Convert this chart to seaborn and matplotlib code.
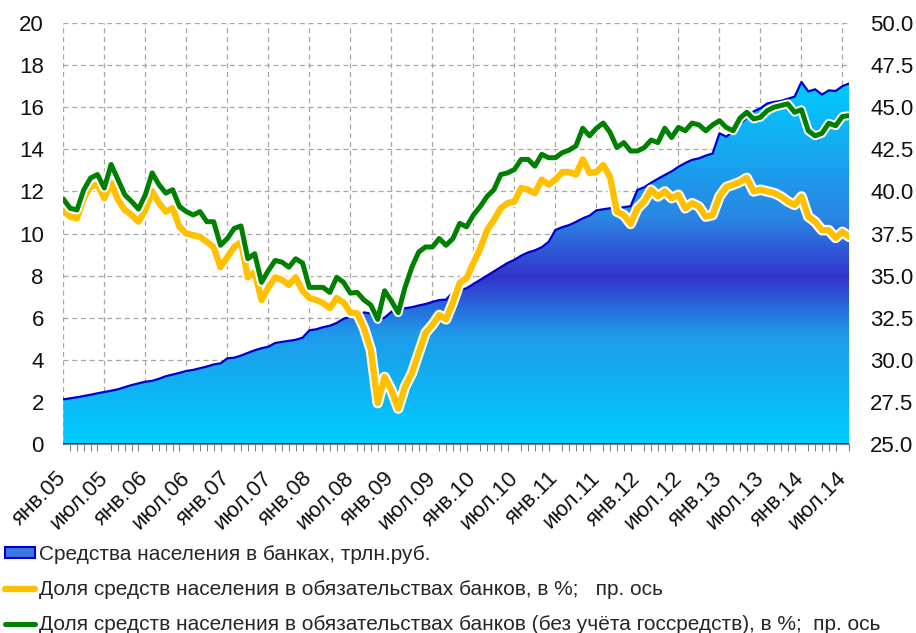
import numpy as np
import pandas as pd
import matplotlib
matplotlib.use("Agg")
import matplotlib.pyplot as plt
import seaborn as sns
from matplotlib import patheffects as pe
from matplotlib import font_manager
from matplotlib.colors import LinearSegmentedColormap
from matplotlib.patches import Patch
from matplotlib.lines import Line2D
from matplotlib.transforms import ScaledTranslation

# Средства населения в банках, трлн.руб. (янв.05 - авг.14, помесячно)
deposits = [2.12, 2.17, 2.22, 2.28, 2.34, 2.41, 2.47, 2.53, 2.60, 2.70,
            2.80, 2.88, 2.96, 3.00, 3.10, 3.22, 3.30, 3.38, 3.47, 3.52,
            3.60, 3.68, 3.78, 3.83, 4.07, 4.10, 4.20, 4.33, 4.45, 4.55,
            4.62, 4.80, 4.85, 4.90, 4.95, 5.05, 5.40, 5.45, 5.55, 5.62,
            5.75, 5.95, 6.05, 6.10, 6.25, 6.20, 5.90, 6.00, 6.28, 6.35,
            6.45, 6.50, 6.58, 6.65, 6.75, 6.84, 6.86, 7.20, 7.30, 7.40,
            7.60, 7.80, 8.00, 8.20, 8.40, 8.60, 8.75, 8.95, 9.10, 9.20,
            9.35, 9.60, 10.17, 10.30, 10.40, 10.55, 10.72, 10.85, 11.10, 11.15,
            11.20, 11.20, 11.25, 11.30, 12.07, 12.20, 12.41, 12.60, 12.78, 12.95,
            13.17, 13.35, 13.50, 13.57, 13.70, 13.80, 14.76, 14.60, 14.84, 15.20,
            15.50, 15.80, 15.95, 16.18, 16.25, 16.30, 16.40, 16.50, 17.20, 16.75,
            16.85, 16.60, 16.80, 16.77, 17.00, 17.13]

# Доля средств населения в обязательствах банков, %
share_all = [38.85, 38.5, 38.4, 39.6, 40.3, 40.4, 39.6, 40.5, 39.5, 38.9,
             38.6, 38.2, 38.9, 40.0, 39.3, 38.8, 39.0, 37.9, 37.5, 37.4,
             37.3, 37.0, 36.7, 35.5, 36.1, 36.7, 37.0, 34.9, 35.2, 33.55,
             34.3, 34.9, 34.75, 34.45, 34.9, 34.1, 33.67, 33.55, 33.37, 33.07,
             33.67, 33.4, 32.8, 32.76, 31.87, 30.58, 27.43, 28.98, 28.2, 27.1,
             28.4, 29.2, 30.4, 31.6, 32.07, 32.66, 32.4, 33.4, 34.56, 34.85,
             35.75, 36.6, 37.7, 38.3, 39.0, 39.3, 39.4, 40.2, 40.1, 39.9,
             40.7, 40.4, 40.7, 41.15, 41.15, 41.0, 41.9, 41.1, 41.15, 41.56,
             40.85, 38.8, 38.6, 38.07, 39.0, 39.4, 40.1, 39.7, 40.0, 39.6,
             39.8, 39.0, 39.3, 39.1, 38.5, 38.6, 39.7, 40.26, 40.4, 40.56,
             40.8, 40.0, 40.1, 40.0, 39.9, 39.7, 39.4, 39.2, 39.7, 38.5,
             38.2, 37.7, 37.7, 37.24, 37.6, 37.3]

# то же без учёта госсредств, %
share_private = [39.55, 39.0, 38.9, 40.1, 40.8, 41.0, 40.2, 41.6, 40.7, 39.8,
                 39.4, 38.95, 39.8, 41.1, 40.4, 39.9, 40.1, 39.1, 38.8, 38.6,
                 38.8, 38.2, 38.2, 36.8, 37.2, 37.8, 37.95, 36.0, 36.3, 34.6,
                 35.3, 35.9, 35.8, 35.5, 36.0, 35.75, 34.3, 34.3, 34.3, 34.0,
                 34.9, 34.6, 33.96, 34.0, 33.55, 33.25, 32.4, 34.1, 33.5, 32.8,
                 34.3, 35.5, 36.4, 36.7, 36.7, 37.2, 36.8, 37.2, 38.1, 37.9,
                 38.6, 39.1, 39.7, 40.1, 41.0, 41.1, 41.3, 41.9, 41.9, 41.5,
                 42.2, 42.0, 42.0, 42.3, 42.45, 42.7, 43.75, 43.3, 43.75, 44.06,
                 43.5, 42.6, 42.9, 42.4, 42.4, 42.6, 43.05, 42.9, 43.75, 43.2,
                 43.8, 43.6, 44.06, 43.95, 43.6, 43.95, 44.2, 43.8, 43.6, 44.35,
                 44.7, 44.3, 44.4, 44.8, 45.0, 45.1, 45.2, 44.7, 44.85, 43.6,
                 43.3, 43.45, 44.05, 43.9, 44.45, 44.5]

tick_labels = ["янв.05", "июл.05", "янв.06", "июл.06", "янв.07", "июл.07",
               "янв.08", "июл.08", "янв.09", "июл.09", "янв.10", "июл.10",
               "янв.11", "июл.11", "янв.12", "июл.12", "янв.13", "июл.13",
               "янв.14", "июл.14"]

legend_labels = ["Средства населения в банках, трлн.руб.",
                 "Доля средств населения в обязательствах банков, в %;   пр. ось",
                 "Доля средств населения в обязательствах банков (без учёта госсредств), в %;  пр. ось"]

sns.set_style("white")
names = {f.name for f in font_manager.fontManager.ttflist}
narrow = "Liberation Sans Narrow" if "Liberation Sans Narrow" in names else "Liberation Sans"
plt.rcParams["font.family"] = ["Liberation Sans", "DejaVu Sans"]

months = np.arange(len(deposits))
df = pd.DataFrame({"month": months, "deposits": deposits,
                   "share_all": share_all, "share_private": share_private})

fig = plt.figure(figsize=(9.16, 6.33), dpi=100)
ax = fig.add_axes([63.3 / 916, 189 / 633, 786 / 916, 421 / 633])
ax2 = ax.twinx()

# area with vertical gradient (light - dark - light)
top = 17.3
cmap = LinearSegmentedColormap.from_list(
    "dep", [(0, "#00CCFF"), (0.3, "#1E9BEA"), (0.457, "#3333CC"),
            (0.62, "#2A86E2"), (1, "#00CCFF")])
grad = np.linspace(0, 1, 256).reshape(-1, 1)
poly = ax.fill_between(df["month"], 0, df["deposits"], color="none", lw=0)
img = ax.imshow(grad, extent=(0, months[-1], 0, top), origin="lower",
                aspect="auto", cmap=cmap, zorder=1)
img.set_clip_path(poly.get_paths()[0], transform=ax.transData)
sns.lineplot(data=df, x="month", y="deposits", ax=ax, color="#0000CC", lw=1.6, zorder=2)
ax.axhline(0, color="#0000CC", lw=2, zorder=2)

sns.lineplot(data=df, x="month", y="share_all", ax=ax2, color="#FFC000", lw=4.6,
             path_effects=[pe.Stroke(linewidth=7.6, foreground="white"), pe.Normal()])
sns.lineplot(data=df, x="month", y="share_private", ax=ax2, color="#008000", lw=3.6,
             path_effects=[pe.Stroke(linewidth=6.4, foreground="white"), pe.Normal()])

ax.set_xlim(0, months[-1])
ax.set_ylim(0, 20)
ax2.set_ylim(25, 50)
ax.set_xticks(range(0, len(months), 6))
ax.set_xticklabels(tick_labels, rotation=45, ha="right", va="center",
                   rotation_mode="anchor", fontsize=16)
shift = ScaledTranslation(3 / 100, 0, fig.dpi_scale_trans)
for lbl in ax.get_xticklabels():
    lbl.set_transform(lbl.get_transform() + shift)
ax.set_xticks(months, minor=True)
ax.set_yticks(range(0, 21, 2))
r_ticks = np.arange(25, 50.1, 2.5)
ax2.set_yticks(r_ticks)
ax2.set_yticklabels([f"{v:.1f}" for v in r_ticks])

ax.grid(True, which="major", color="#A6A6A6", ls=(0, (4, 3)), lw=0.9)
ax.set_axisbelow(True)
ax2.grid(False)

ax.tick_params(axis="y", length=0, pad=14, labelsize=16, labelcolor="#111111")
ax2.tick_params(axis="y", length=0, pad=15, labelsize=16, labelcolor="#111111")
ax.tick_params(axis="x", which="major", direction="inout", length=12,
               color="#808080", width=1, pad=16.5, labelcolor="#111111")
ax.tick_params(axis="x", which="minor", direction="out", length=5,
               color="#808080", width=0.8, bottom=True)
for a in (ax, ax2):
    for s in ("top", "left", "right"):
        a.spines[s].set_visible(False)
    a.spines["bottom"].set_color("#808080")
    a.set_xlabel("")
    a.set_ylabel("")

handles = [Patch(facecolor="#3A78E0", edgecolor="#0000CC", lw=1.5),
           Line2D([], [], color="#FFC000", lw=4.6),
           Line2D([], [], color="#008000", lw=3.6)]
fig.legend(handles, legend_labels, loc="upper left",
           bbox_to_anchor=(5 / 916, (633 - 545) / 633), frameon=False,
           prop={"family": narrow, "size": 15}, handlelength=1.45,
           handleheight=0.45, handletextpad=0.2, labelspacing=0.78,
           borderpad=0, borderaxespad=0)

fig.savefig("out.png", dpi=100)
